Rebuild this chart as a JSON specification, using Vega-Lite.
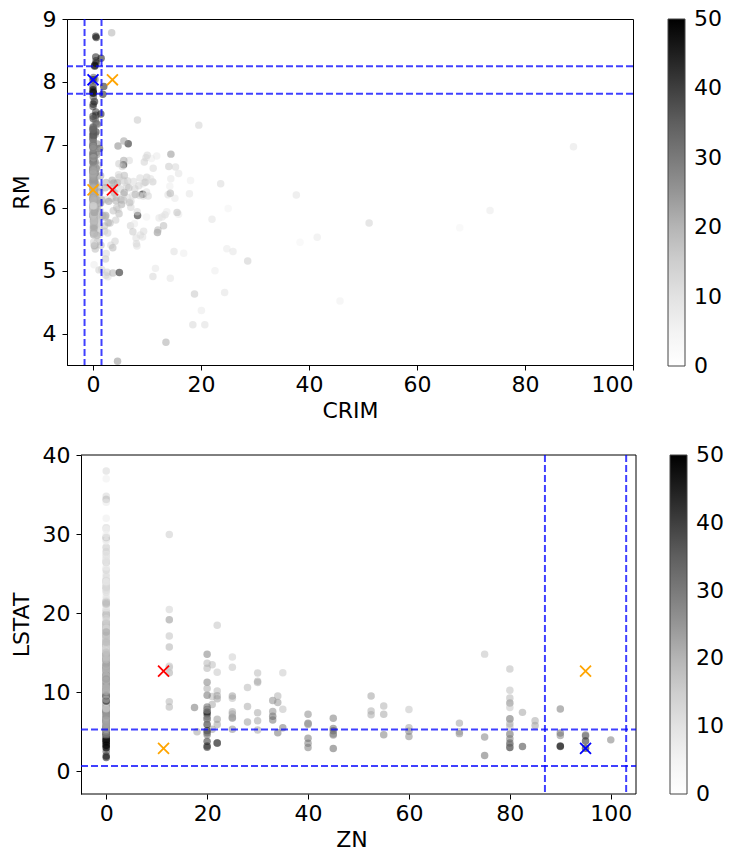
{
"$schema": "https://vega.github.io/schema/vega-lite/v6.json",
"padding": {"left": 9, "top": 7, "right": 2, "bottom": 2},
"background": "white",
"config": {
  "font": "DejaVu Sans",
  "axis": {"labelFontSize": 22, "titleFontSize": 22, "titleFontWeight": "normal", "labelColor": "#000", "titleColor": "#000", "tickSize": 5, "tickColor": "#000", "domainColor": "#000", "grid": false, "labelPadding": 4, "titlePadding": 5, "labelFont": "DejaVu Sans", "titleFont": "DejaVu Sans"},
  "axisY": {"labelPadding": 6, "titlePadding": 9},
  "view": {"stroke": "#000", "strokeWidth": 1},
  "legend": {"labelFont": "DejaVu Sans", "labelFontSize": 22, "labelColor": "#000"}
},
"datasets": {
"boston": [
{"CRIM":0.006,"ZN":18,"RM":6.575,"LSTAT":4.98,"MEDV":24},
{"CRIM":0.027,"ZN":0,"RM":6.421,"LSTAT":9.14,"MEDV":21.6},
{"CRIM":0.027,"ZN":0,"RM":7.185,"LSTAT":4.03,"MEDV":34.7},
{"CRIM":0.032,"ZN":0,"RM":6.998,"LSTAT":2.94,"MEDV":33.4},
{"CRIM":0.069,"ZN":0,"RM":7.147,"LSTAT":5.33,"MEDV":36.2},
{"CRIM":0.030,"ZN":0,"RM":6.43,"LSTAT":5.21,"MEDV":28.7},
{"CRIM":0.088,"ZN":12.5,"RM":6.012,"LSTAT":12.43,"MEDV":22.9},
{"CRIM":0.145,"ZN":12.5,"RM":6.172,"LSTAT":19.15,"MEDV":27.1},
{"CRIM":0.211,"ZN":12.5,"RM":5.631,"LSTAT":29.93,"MEDV":16.5},
{"CRIM":0.170,"ZN":12.5,"RM":6.004,"LSTAT":17.1,"MEDV":18.9},
{"CRIM":0.225,"ZN":12.5,"RM":6.377,"LSTAT":20.45,"MEDV":15},
{"CRIM":0.117,"ZN":12.5,"RM":6.009,"LSTAT":13.27,"MEDV":18.9},
{"CRIM":0.094,"ZN":12.5,"RM":5.889,"LSTAT":15.71,"MEDV":21.7},
{"CRIM":0.630,"ZN":0,"RM":5.949,"LSTAT":8.26,"MEDV":20.4},
{"CRIM":0.638,"ZN":0,"RM":6.096,"LSTAT":10.26,"MEDV":18.2},
{"CRIM":0.627,"ZN":0,"RM":5.834,"LSTAT":8.47,"MEDV":19.9},
{"CRIM":1.054,"ZN":0,"RM":5.935,"LSTAT":6.58,"MEDV":23.1},
{"CRIM":0.784,"ZN":0,"RM":5.99,"LSTAT":14.67,"MEDV":17.5},
{"CRIM":0.803,"ZN":0,"RM":5.456,"LSTAT":11.69,"MEDV":20.2},
{"CRIM":0.726,"ZN":0,"RM":5.727,"LSTAT":11.28,"MEDV":18.2},
{"CRIM":1.252,"ZN":0,"RM":5.57,"LSTAT":21.02,"MEDV":13.6},
{"CRIM":0.852,"ZN":0,"RM":5.965,"LSTAT":13.83,"MEDV":19.6},
{"CRIM":1.232,"ZN":0,"RM":6.142,"LSTAT":18.72,"MEDV":15.2},
{"CRIM":0.988,"ZN":0,"RM":5.813,"LSTAT":19.88,"MEDV":14.5},
{"CRIM":0.750,"ZN":0,"RM":5.924,"LSTAT":16.3,"MEDV":15.6},
{"CRIM":0.841,"ZN":0,"RM":5.599,"LSTAT":16.51,"MEDV":13.9},
{"CRIM":0.672,"ZN":0,"RM":5.813,"LSTAT":14.81,"MEDV":16.6},
{"CRIM":0.956,"ZN":0,"RM":6.047,"LSTAT":17.28,"MEDV":14.8},
{"CRIM":0.773,"ZN":0,"RM":6.495,"LSTAT":12.8,"MEDV":18.4},
{"CRIM":1.002,"ZN":0,"RM":6.674,"LSTAT":11.98,"MEDV":21},
{"CRIM":1.131,"ZN":0,"RM":5.713,"LSTAT":22.6,"MEDV":12.7},
{"CRIM":1.355,"ZN":0,"RM":6.072,"LSTAT":13.04,"MEDV":14.5},
{"CRIM":1.388,"ZN":0,"RM":5.95,"LSTAT":27.71,"MEDV":13.2},
{"CRIM":1.152,"ZN":0,"RM":5.701,"LSTAT":18.35,"MEDV":13.1},
{"CRIM":1.613,"ZN":0,"RM":6.096,"LSTAT":20.34,"MEDV":13.5},
{"CRIM":0.064,"ZN":0,"RM":5.933,"LSTAT":9.68,"MEDV":18.9},
{"CRIM":0.097,"ZN":0,"RM":5.841,"LSTAT":11.41,"MEDV":20},
{"CRIM":0.080,"ZN":0,"RM":5.85,"LSTAT":8.77,"MEDV":21},
{"CRIM":0.175,"ZN":0,"RM":5.966,"LSTAT":10.13,"MEDV":24.7},
{"CRIM":0.028,"ZN":75,"RM":6.595,"LSTAT":4.32,"MEDV":30.8},
{"CRIM":0.034,"ZN":75,"RM":7.024,"LSTAT":1.98,"MEDV":34.9},
{"CRIM":0.127,"ZN":0,"RM":6.77,"LSTAT":4.84,"MEDV":26.6},
{"CRIM":0.142,"ZN":0,"RM":6.169,"LSTAT":5.81,"MEDV":25.3},
{"CRIM":0.159,"ZN":0,"RM":6.211,"LSTAT":7.44,"MEDV":24.7},
{"CRIM":0.123,"ZN":0,"RM":6.069,"LSTAT":9.55,"MEDV":21.2},
{"CRIM":0.171,"ZN":0,"RM":5.682,"LSTAT":10.21,"MEDV":19.3},
{"CRIM":0.188,"ZN":0,"RM":5.786,"LSTAT":14.15,"MEDV":20},
{"CRIM":0.229,"ZN":0,"RM":6.03,"LSTAT":18.8,"MEDV":16.6},
{"CRIM":0.254,"ZN":0,"RM":5.399,"LSTAT":30.81,"MEDV":14.4},
{"CRIM":0.220,"ZN":0,"RM":5.602,"LSTAT":16.2,"MEDV":19.4},
{"CRIM":0.089,"ZN":21,"RM":5.963,"LSTAT":13.45,"MEDV":19.7},
{"CRIM":0.043,"ZN":21,"RM":6.115,"LSTAT":9.43,"MEDV":20.5},
{"CRIM":0.054,"ZN":21,"RM":6.511,"LSTAT":5.28,"MEDV":25},
{"CRIM":0.050,"ZN":21,"RM":5.998,"LSTAT":8.43,"MEDV":23.4},
{"CRIM":0.014,"ZN":75,"RM":5.888,"LSTAT":14.8,"MEDV":18.9},
{"CRIM":0.013,"ZN":90,"RM":7.249,"LSTAT":4.81,"MEDV":35.4},
{"CRIM":0.021,"ZN":85,"RM":6.383,"LSTAT":5.77,"MEDV":24.7},
{"CRIM":0.014,"ZN":100,"RM":6.816,"LSTAT":3.95,"MEDV":31.6},
{"CRIM":0.154,"ZN":25,"RM":6.145,"LSTAT":6.86,"MEDV":23.3},
{"CRIM":0.103,"ZN":25,"RM":5.927,"LSTAT":9.22,"MEDV":19.6},
{"CRIM":0.149,"ZN":25,"RM":5.741,"LSTAT":13.15,"MEDV":18.7},
{"CRIM":0.172,"ZN":25,"RM":5.966,"LSTAT":14.44,"MEDV":16},
{"CRIM":0.110,"ZN":25,"RM":6.456,"LSTAT":6.73,"MEDV":22.2},
{"CRIM":0.127,"ZN":25,"RM":6.762,"LSTAT":9.5,"MEDV":25},
{"CRIM":0.020,"ZN":17.5,"RM":7.104,"LSTAT":8.05,"MEDV":33},
{"CRIM":0.036,"ZN":80,"RM":6.29,"LSTAT":4.67,"MEDV":23.5},
{"CRIM":0.044,"ZN":80,"RM":5.787,"LSTAT":10.24,"MEDV":19.4},
{"CRIM":0.058,"ZN":12.5,"RM":5.878,"LSTAT":8.1,"MEDV":22},
{"CRIM":0.136,"ZN":12.5,"RM":5.594,"LSTAT":13.09,"MEDV":17.4},
{"CRIM":0.128,"ZN":12.5,"RM":5.885,"LSTAT":8.79,"MEDV":20.9},
{"CRIM":0.088,"ZN":0,"RM":6.417,"LSTAT":6.72,"MEDV":24.2},
{"CRIM":0.159,"ZN":0,"RM":5.961,"LSTAT":9.88,"MEDV":21.7},
{"CRIM":0.092,"ZN":0,"RM":6.065,"LSTAT":5.52,"MEDV":22.8},
{"CRIM":0.195,"ZN":0,"RM":6.245,"LSTAT":7.54,"MEDV":23.4},
{"CRIM":0.079,"ZN":0,"RM":6.273,"LSTAT":6.78,"MEDV":24.1},
{"CRIM":0.095,"ZN":0,"RM":6.286,"LSTAT":8.94,"MEDV":21.4},
{"CRIM":0.102,"ZN":0,"RM":6.279,"LSTAT":11.97,"MEDV":20},
{"CRIM":0.087,"ZN":0,"RM":6.14,"LSTAT":10.27,"MEDV":20.8},
{"CRIM":0.056,"ZN":0,"RM":6.232,"LSTAT":12.34,"MEDV":21.2},
{"CRIM":0.084,"ZN":0,"RM":5.874,"LSTAT":9.1,"MEDV":20.3},
{"CRIM":0.041,"ZN":25,"RM":6.727,"LSTAT":5.29,"MEDV":28},
{"CRIM":0.045,"ZN":25,"RM":6.619,"LSTAT":7.22,"MEDV":23.9},
{"CRIM":0.037,"ZN":25,"RM":6.302,"LSTAT":6.72,"MEDV":24.8},
{"CRIM":0.036,"ZN":25,"RM":6.167,"LSTAT":7.51,"MEDV":22.9},
{"CRIM":0.051,"ZN":0,"RM":6.389,"LSTAT":9.62,"MEDV":23.9},
{"CRIM":0.057,"ZN":0,"RM":6.63,"LSTAT":6.53,"MEDV":26.6},
{"CRIM":0.052,"ZN":0,"RM":6.015,"LSTAT":12.86,"MEDV":22.5},
{"CRIM":0.072,"ZN":0,"RM":6.121,"LSTAT":8.44,"MEDV":22.2},
{"CRIM":0.057,"ZN":0,"RM":7.007,"LSTAT":5.5,"MEDV":23.6},
{"CRIM":0.053,"ZN":0,"RM":7.079,"LSTAT":5.7,"MEDV":28.7},
{"CRIM":0.047,"ZN":0,"RM":6.417,"LSTAT":8.81,"MEDV":22.6},
{"CRIM":0.039,"ZN":0,"RM":6.405,"LSTAT":8.2,"MEDV":22},
{"CRIM":0.042,"ZN":28,"RM":6.442,"LSTAT":8.16,"MEDV":22.9},
{"CRIM":0.029,"ZN":28,"RM":6.211,"LSTAT":6.21,"MEDV":25},
{"CRIM":0.043,"ZN":28,"RM":6.249,"LSTAT":10.59,"MEDV":20.6},
{"CRIM":0.122,"ZN":0,"RM":6.625,"LSTAT":6.65,"MEDV":28.4},
{"CRIM":0.115,"ZN":0,"RM":6.163,"LSTAT":11.34,"MEDV":21.4},
{"CRIM":0.121,"ZN":0,"RM":8.069,"LSTAT":4.21,"MEDV":38.7},
{"CRIM":0.082,"ZN":0,"RM":7.82,"LSTAT":3.57,"MEDV":43.8},
{"CRIM":0.069,"ZN":0,"RM":7.416,"LSTAT":6.19,"MEDV":33.2},
{"CRIM":0.149,"ZN":0,"RM":6.727,"LSTAT":9.42,"MEDV":27.5},
{"CRIM":0.114,"ZN":0,"RM":6.781,"LSTAT":7.67,"MEDV":26.5},
{"CRIM":0.229,"ZN":0,"RM":6.405,"LSTAT":10.63,"MEDV":18.6},
{"CRIM":0.212,"ZN":0,"RM":6.137,"LSTAT":13.44,"MEDV":19.3},
{"CRIM":0.140,"ZN":0,"RM":6.167,"LSTAT":12.33,"MEDV":20.1},
{"CRIM":0.133,"ZN":0,"RM":5.851,"LSTAT":16.47,"MEDV":19.5},
{"CRIM":0.171,"ZN":0,"RM":5.836,"LSTAT":18.66,"MEDV":19.5},
{"CRIM":0.131,"ZN":0,"RM":6.127,"LSTAT":14.09,"MEDV":20.4},
{"CRIM":0.128,"ZN":0,"RM":6.474,"LSTAT":12.27,"MEDV":19.8},
{"CRIM":0.264,"ZN":0,"RM":6.229,"LSTAT":15.55,"MEDV":19.4},
{"CRIM":0.108,"ZN":0,"RM":6.195,"LSTAT":13,"MEDV":21.7},
{"CRIM":0.101,"ZN":0,"RM":6.715,"LSTAT":10.16,"MEDV":22.8},
{"CRIM":0.123,"ZN":0,"RM":5.913,"LSTAT":16.21,"MEDV":18.8},
{"CRIM":0.222,"ZN":0,"RM":6.092,"LSTAT":17.09,"MEDV":18.7},
{"CRIM":0.142,"ZN":0,"RM":6.254,"LSTAT":10.45,"MEDV":18.5},
{"CRIM":0.171,"ZN":0,"RM":5.928,"LSTAT":15.76,"MEDV":18.3},
{"CRIM":0.132,"ZN":0,"RM":6.176,"LSTAT":12.04,"MEDV":21.2},
{"CRIM":0.151,"ZN":0,"RM":6.021,"LSTAT":10.3,"MEDV":19.2},
{"CRIM":0.131,"ZN":0,"RM":5.872,"LSTAT":15.37,"MEDV":20.4},
{"CRIM":0.145,"ZN":0,"RM":5.731,"LSTAT":13.61,"MEDV":19.3},
{"CRIM":0.069,"ZN":0,"RM":5.87,"LSTAT":14.37,"MEDV":22},
{"CRIM":0.072,"ZN":0,"RM":6.004,"LSTAT":14.27,"MEDV":20.3},
{"CRIM":0.093,"ZN":0,"RM":5.961,"LSTAT":17.93,"MEDV":20.5},
{"CRIM":0.150,"ZN":0,"RM":5.856,"LSTAT":25.41,"MEDV":17.3},
{"CRIM":0.098,"ZN":0,"RM":5.879,"LSTAT":17.58,"MEDV":18.8},
{"CRIM":0.169,"ZN":0,"RM":5.986,"LSTAT":14.81,"MEDV":21.4},
{"CRIM":0.387,"ZN":0,"RM":5.613,"LSTAT":27.26,"MEDV":15.7},
{"CRIM":0.259,"ZN":0,"RM":5.693,"LSTAT":17.19,"MEDV":16.2},
{"CRIM":0.325,"ZN":0,"RM":6.431,"LSTAT":15.39,"MEDV":18},
{"CRIM":0.881,"ZN":0,"RM":5.637,"LSTAT":18.34,"MEDV":14.3},
{"CRIM":0.340,"ZN":0,"RM":6.458,"LSTAT":12.6,"MEDV":19.2},
{"CRIM":1.193,"ZN":0,"RM":6.326,"LSTAT":12.26,"MEDV":19.6},
{"CRIM":0.590,"ZN":0,"RM":6.372,"LSTAT":11.12,"MEDV":23},
{"CRIM":0.330,"ZN":0,"RM":5.822,"LSTAT":15.03,"MEDV":18.4},
{"CRIM":0.976,"ZN":0,"RM":5.757,"LSTAT":17.31,"MEDV":15.6},
{"CRIM":0.558,"ZN":0,"RM":6.335,"LSTAT":16.96,"MEDV":18.1},
{"CRIM":0.323,"ZN":0,"RM":5.942,"LSTAT":16.9,"MEDV":17.4},
{"CRIM":0.352,"ZN":0,"RM":6.454,"LSTAT":14.59,"MEDV":17.1},
{"CRIM":0.250,"ZN":0,"RM":5.857,"LSTAT":21.32,"MEDV":13.3},
{"CRIM":0.545,"ZN":0,"RM":6.151,"LSTAT":18.46,"MEDV":17.8},
{"CRIM":0.291,"ZN":0,"RM":6.174,"LSTAT":24.16,"MEDV":14},
{"CRIM":1.629,"ZN":0,"RM":5.019,"LSTAT":34.41,"MEDV":14.4},
{"CRIM":3.321,"ZN":0,"RM":5.403,"LSTAT":26.82,"MEDV":13.4},
{"CRIM":4.097,"ZN":0,"RM":5.468,"LSTAT":26.42,"MEDV":15.6},
{"CRIM":2.780,"ZN":0,"RM":4.903,"LSTAT":29.29,"MEDV":11.8},
{"CRIM":2.379,"ZN":0,"RM":6.13,"LSTAT":27.8,"MEDV":13.8},
{"CRIM":2.155,"ZN":0,"RM":5.628,"LSTAT":16.65,"MEDV":15.6},
{"CRIM":2.369,"ZN":0,"RM":4.926,"LSTAT":29.53,"MEDV":14.6},
{"CRIM":2.331,"ZN":0,"RM":5.186,"LSTAT":28.32,"MEDV":17.8},
{"CRIM":2.734,"ZN":0,"RM":5.597,"LSTAT":21.45,"MEDV":15.4},
{"CRIM":1.657,"ZN":0,"RM":6.122,"LSTAT":14.1,"MEDV":21.5},
{"CRIM":1.496,"ZN":0,"RM":5.404,"LSTAT":13.28,"MEDV":19.6},
{"CRIM":1.127,"ZN":0,"RM":5.012,"LSTAT":12.12,"MEDV":15.3},
{"CRIM":2.149,"ZN":0,"RM":5.709,"LSTAT":15.79,"MEDV":19.4},
{"CRIM":1.414,"ZN":0,"RM":6.129,"LSTAT":15.12,"MEDV":17},
{"CRIM":3.535,"ZN":0,"RM":6.152,"LSTAT":15.02,"MEDV":15.6},
{"CRIM":2.447,"ZN":0,"RM":5.272,"LSTAT":16.14,"MEDV":13.1},
{"CRIM":1.224,"ZN":0,"RM":6.943,"LSTAT":4.59,"MEDV":41.3},
{"CRIM":1.343,"ZN":0,"RM":6.066,"LSTAT":6.43,"MEDV":24.3},
{"CRIM":1.425,"ZN":0,"RM":6.51,"LSTAT":7.39,"MEDV":23.3},
{"CRIM":1.273,"ZN":0,"RM":6.25,"LSTAT":5.5,"MEDV":27},
{"CRIM":1.463,"ZN":0,"RM":7.489,"LSTAT":1.73,"MEDV":50},
{"CRIM":1.834,"ZN":0,"RM":7.802,"LSTAT":1.92,"MEDV":50},
{"CRIM":1.519,"ZN":0,"RM":8.375,"LSTAT":3.32,"MEDV":50},
{"CRIM":2.242,"ZN":0,"RM":5.854,"LSTAT":11.64,"MEDV":22.7},
{"CRIM":2.924,"ZN":0,"RM":6.101,"LSTAT":9.81,"MEDV":25},
{"CRIM":2.010,"ZN":0,"RM":7.929,"LSTAT":3.7,"MEDV":50},
{"CRIM":1.800,"ZN":0,"RM":5.877,"LSTAT":12.14,"MEDV":23.8},
{"CRIM":2.300,"ZN":0,"RM":6.319,"LSTAT":11.1,"MEDV":23.8},
{"CRIM":2.450,"ZN":0,"RM":6.402,"LSTAT":11.32,"MEDV":22.3},
{"CRIM":1.207,"ZN":0,"RM":5.875,"LSTAT":14.43,"MEDV":17.4},
{"CRIM":2.314,"ZN":0,"RM":5.88,"LSTAT":12.03,"MEDV":19.1},
{"CRIM":0.139,"ZN":0,"RM":5.572,"LSTAT":14.69,"MEDV":23.1},
{"CRIM":0.092,"ZN":0,"RM":6.416,"LSTAT":9.04,"MEDV":23.6},
{"CRIM":0.084,"ZN":0,"RM":5.859,"LSTAT":9.64,"MEDV":22.6},
{"CRIM":0.067,"ZN":0,"RM":6.546,"LSTAT":5.33,"MEDV":29.4},
{"CRIM":0.070,"ZN":0,"RM":6.02,"LSTAT":10.11,"MEDV":23.2},
{"CRIM":0.054,"ZN":0,"RM":6.315,"LSTAT":6.29,"MEDV":24.6},
{"CRIM":0.066,"ZN":0,"RM":6.86,"LSTAT":6.92,"MEDV":29.9},
{"CRIM":0.058,"ZN":0,"RM":6.98,"LSTAT":5.04,"MEDV":37.2},
{"CRIM":0.066,"ZN":0,"RM":7.765,"LSTAT":7.56,"MEDV":39.8},
{"CRIM":0.069,"ZN":0,"RM":6.144,"LSTAT":9.45,"MEDV":36.2},
{"CRIM":0.091,"ZN":0,"RM":7.155,"LSTAT":4.82,"MEDV":37.9},
{"CRIM":0.100,"ZN":0,"RM":6.563,"LSTAT":5.68,"MEDV":32.5},
{"CRIM":0.083,"ZN":0,"RM":5.604,"LSTAT":13.98,"MEDV":26.4},
{"CRIM":0.060,"ZN":0,"RM":6.153,"LSTAT":13.15,"MEDV":29.6},
{"CRIM":0.056,"ZN":0,"RM":7.831,"LSTAT":4.45,"MEDV":50},
{"CRIM":0.079,"ZN":45,"RM":6.782,"LSTAT":6.68,"MEDV":32},
{"CRIM":0.126,"ZN":45,"RM":6.556,"LSTAT":4.56,"MEDV":29.8},
{"CRIM":0.084,"ZN":45,"RM":7.185,"LSTAT":5.39,"MEDV":34.9},
{"CRIM":0.091,"ZN":45,"RM":6.951,"LSTAT":5.1,"MEDV":37},
{"CRIM":0.069,"ZN":45,"RM":6.739,"LSTAT":4.69,"MEDV":30.5},
{"CRIM":0.087,"ZN":45,"RM":7.178,"LSTAT":2.87,"MEDV":36.4},
{"CRIM":0.022,"ZN":60,"RM":6.8,"LSTAT":5.03,"MEDV":31.1},
{"CRIM":0.014,"ZN":60,"RM":6.604,"LSTAT":4.38,"MEDV":29.1},
{"CRIM":0.014,"ZN":80,"RM":7.875,"LSTAT":2.97,"MEDV":50},
{"CRIM":0.040,"ZN":80,"RM":7.287,"LSTAT":4.08,"MEDV":33.3},
{"CRIM":0.047,"ZN":80,"RM":7.107,"LSTAT":8.61,"MEDV":30.3},
{"CRIM":0.038,"ZN":80,"RM":7.274,"LSTAT":6.62,"MEDV":34.6},
{"CRIM":0.032,"ZN":95,"RM":6.975,"LSTAT":4.56,"MEDV":34.9},
{"CRIM":0.018,"ZN":95,"RM":7.135,"LSTAT":4.45,"MEDV":32.9},
{"CRIM":0.034,"ZN":82.5,"RM":6.162,"LSTAT":7.43,"MEDV":24.1},
{"CRIM":0.022,"ZN":82.5,"RM":7.61,"LSTAT":3.11,"MEDV":42.3},
{"CRIM":0.035,"ZN":95,"RM":7.853,"LSTAT":3.81,"MEDV":48.5},
{"CRIM":0.020,"ZN":95,"RM":8.034,"LSTAT":2.88,"MEDV":50},
{"CRIM":0.136,"ZN":0,"RM":5.891,"LSTAT":10.87,"MEDV":22.6},
{"CRIM":0.230,"ZN":0,"RM":6.326,"LSTAT":10.97,"MEDV":24.4},
{"CRIM":0.252,"ZN":0,"RM":5.783,"LSTAT":18.06,"MEDV":22.5},
{"CRIM":0.136,"ZN":0,"RM":6.064,"LSTAT":14.66,"MEDV":24.4},
{"CRIM":0.436,"ZN":0,"RM":5.344,"LSTAT":23.09,"MEDV":20},
{"CRIM":0.174,"ZN":0,"RM":5.96,"LSTAT":17.27,"MEDV":21.7},
{"CRIM":0.376,"ZN":0,"RM":5.404,"LSTAT":23.98,"MEDV":19.3},
{"CRIM":0.217,"ZN":0,"RM":5.807,"LSTAT":16.03,"MEDV":22.4},
{"CRIM":0.141,"ZN":0,"RM":6.375,"LSTAT":9.38,"MEDV":28.1},
{"CRIM":0.290,"ZN":0,"RM":5.412,"LSTAT":29.55,"MEDV":23.7},
{"CRIM":0.198,"ZN":0,"RM":6.182,"LSTAT":9.47,"MEDV":25},
{"CRIM":0.046,"ZN":0,"RM":5.888,"LSTAT":13.51,"MEDV":23.3},
{"CRIM":0.070,"ZN":0,"RM":6.642,"LSTAT":9.69,"MEDV":28.7},
{"CRIM":0.111,"ZN":0,"RM":5.951,"LSTAT":17.92,"MEDV":21.5},
{"CRIM":0.114,"ZN":0,"RM":6.373,"LSTAT":10.5,"MEDV":23},
{"CRIM":0.358,"ZN":0,"RM":6.951,"LSTAT":9.71,"MEDV":26.7},
{"CRIM":0.408,"ZN":0,"RM":6.164,"LSTAT":21.46,"MEDV":21.7},
{"CRIM":0.624,"ZN":0,"RM":6.879,"LSTAT":9.93,"MEDV":27.5},
{"CRIM":0.615,"ZN":0,"RM":6.618,"LSTAT":7.6,"MEDV":30.1},
{"CRIM":0.315,"ZN":0,"RM":8.266,"LSTAT":4.14,"MEDV":44.8},
{"CRIM":0.527,"ZN":0,"RM":8.725,"LSTAT":4.63,"MEDV":50},
{"CRIM":0.382,"ZN":0,"RM":8.04,"LSTAT":3.13,"MEDV":37.6},
{"CRIM":0.412,"ZN":0,"RM":7.163,"LSTAT":6.36,"MEDV":31.6},
{"CRIM":0.298,"ZN":0,"RM":7.686,"LSTAT":3.92,"MEDV":46.7},
{"CRIM":0.442,"ZN":0,"RM":6.552,"LSTAT":3.76,"MEDV":31.5},
{"CRIM":0.537,"ZN":0,"RM":5.981,"LSTAT":11.65,"MEDV":24.3},
{"CRIM":0.463,"ZN":0,"RM":7.412,"LSTAT":5.25,"MEDV":31.7},
{"CRIM":0.575,"ZN":0,"RM":8.337,"LSTAT":2.47,"MEDV":41.7},
{"CRIM":0.331,"ZN":0,"RM":8.247,"LSTAT":3.95,"MEDV":48.3},
{"CRIM":0.448,"ZN":0,"RM":6.726,"LSTAT":8.05,"MEDV":29},
{"CRIM":0.330,"ZN":0,"RM":6.086,"LSTAT":10.88,"MEDV":24},
{"CRIM":0.521,"ZN":0,"RM":6.631,"LSTAT":9.54,"MEDV":25.1},
{"CRIM":0.512,"ZN":0,"RM":7.358,"LSTAT":4.73,"MEDV":31.5},
{"CRIM":0.082,"ZN":30,"RM":6.481,"LSTAT":6.36,"MEDV":23.7},
{"CRIM":0.093,"ZN":30,"RM":6.606,"LSTAT":7.37,"MEDV":23.3},
{"CRIM":0.113,"ZN":30,"RM":6.897,"LSTAT":11.38,"MEDV":22},
{"CRIM":0.106,"ZN":30,"RM":6.095,"LSTAT":12.4,"MEDV":20.1},
{"CRIM":0.103,"ZN":30,"RM":6.358,"LSTAT":11.22,"MEDV":22.2},
{"CRIM":0.128,"ZN":30,"RM":6.393,"LSTAT":5.19,"MEDV":23.7},
{"CRIM":0.206,"ZN":22,"RM":5.593,"LSTAT":12.5,"MEDV":17.6},
{"CRIM":0.191,"ZN":22,"RM":5.605,"LSTAT":18.46,"MEDV":18.5},
{"CRIM":0.340,"ZN":22,"RM":6.108,"LSTAT":9.16,"MEDV":24.3},
{"CRIM":0.197,"ZN":22,"RM":6.226,"LSTAT":10.15,"MEDV":20.5},
{"CRIM":0.164,"ZN":22,"RM":6.433,"LSTAT":9.52,"MEDV":24.5},
{"CRIM":0.191,"ZN":22,"RM":6.718,"LSTAT":6.56,"MEDV":26.2},
{"CRIM":0.140,"ZN":22,"RM":6.487,"LSTAT":5.9,"MEDV":24.4},
{"CRIM":0.214,"ZN":22,"RM":6.438,"LSTAT":3.59,"MEDV":24.8},
{"CRIM":0.082,"ZN":22,"RM":6.957,"LSTAT":3.53,"MEDV":29.6},
{"CRIM":0.369,"ZN":22,"RM":8.259,"LSTAT":3.54,"MEDV":42.8},
{"CRIM":0.048,"ZN":80,"RM":6.108,"LSTAT":6.57,"MEDV":21.9},
{"CRIM":0.035,"ZN":80,"RM":5.876,"LSTAT":9.25,"MEDV":20.9},
{"CRIM":0.015,"ZN":90,"RM":7.454,"LSTAT":3.11,"MEDV":44},
{"CRIM":0.612,"ZN":20,"RM":8.704,"LSTAT":5.12,"MEDV":50},
{"CRIM":0.664,"ZN":20,"RM":7.333,"LSTAT":7.79,"MEDV":36},
{"CRIM":0.657,"ZN":20,"RM":6.842,"LSTAT":6.9,"MEDV":30.1},
{"CRIM":0.540,"ZN":20,"RM":7.203,"LSTAT":9.59,"MEDV":33.8},
{"CRIM":0.534,"ZN":20,"RM":7.52,"LSTAT":7.26,"MEDV":43.1},
{"CRIM":0.520,"ZN":20,"RM":8.398,"LSTAT":5.91,"MEDV":48.8},
{"CRIM":0.825,"ZN":20,"RM":7.327,"LSTAT":11.25,"MEDV":31},
{"CRIM":0.550,"ZN":20,"RM":7.206,"LSTAT":8.1,"MEDV":36.5},
{"CRIM":0.762,"ZN":20,"RM":5.56,"LSTAT":10.45,"MEDV":22.8},
{"CRIM":0.786,"ZN":20,"RM":7.014,"LSTAT":14.79,"MEDV":30.7},
{"CRIM":0.578,"ZN":20,"RM":8.297,"LSTAT":7.44,"MEDV":50},
{"CRIM":0.541,"ZN":20,"RM":7.47,"LSTAT":3.16,"MEDV":43.5},
{"CRIM":0.091,"ZN":20,"RM":5.92,"LSTAT":13.65,"MEDV":20.7},
{"CRIM":0.299,"ZN":20,"RM":5.856,"LSTAT":13,"MEDV":21.1},
{"CRIM":0.162,"ZN":20,"RM":6.24,"LSTAT":6.59,"MEDV":25.2},
{"CRIM":0.115,"ZN":20,"RM":6.538,"LSTAT":7.73,"MEDV":24.4},
{"CRIM":0.222,"ZN":20,"RM":7.691,"LSTAT":6.58,"MEDV":35.2},
{"CRIM":0.056,"ZN":40,"RM":6.758,"LSTAT":3.53,"MEDV":32.4},
{"CRIM":0.096,"ZN":40,"RM":6.854,"LSTAT":2.98,"MEDV":32},
{"CRIM":0.105,"ZN":40,"RM":7.267,"LSTAT":6.05,"MEDV":33.2},
{"CRIM":0.061,"ZN":40,"RM":6.826,"LSTAT":4.16,"MEDV":33.1},
{"CRIM":0.080,"ZN":40,"RM":6.482,"LSTAT":7.19,"MEDV":29.1},
{"CRIM":0.210,"ZN":20,"RM":6.812,"LSTAT":4.85,"MEDV":35.1},
{"CRIM":0.036,"ZN":20,"RM":7.82,"LSTAT":3.76,"MEDV":45.4},
{"CRIM":0.037,"ZN":20,"RM":6.968,"LSTAT":4.59,"MEDV":35.4},
{"CRIM":0.061,"ZN":20,"RM":7.645,"LSTAT":3.01,"MEDV":46},
{"CRIM":0.015,"ZN":90,"RM":7.923,"LSTAT":3.16,"MEDV":50},
{"CRIM":0.009,"ZN":90,"RM":7.088,"LSTAT":7.85,"MEDV":32.2},
{"CRIM":0.011,"ZN":55,"RM":6.453,"LSTAT":8.23,"MEDV":22},
{"CRIM":0.020,"ZN":80,"RM":6.23,"LSTAT":12.93,"MEDV":20.1},
{"CRIM":0.039,"ZN":52.5,"RM":6.209,"LSTAT":7.14,"MEDV":23.2},
{"CRIM":0.046,"ZN":52.5,"RM":6.315,"LSTAT":7.6,"MEDV":22.3},
{"CRIM":0.043,"ZN":52.5,"RM":6.565,"LSTAT":9.51,"MEDV":24.8},
{"CRIM":0.035,"ZN":80,"RM":6.861,"LSTAT":3.33,"MEDV":28.5},
{"CRIM":0.079,"ZN":80,"RM":7.148,"LSTAT":3.56,"MEDV":37.3},
{"CRIM":0.036,"ZN":80,"RM":6.63,"LSTAT":4.7,"MEDV":27.9},
{"CRIM":0.083,"ZN":0,"RM":6.127,"LSTAT":8.58,"MEDV":23.9},
{"CRIM":0.082,"ZN":0,"RM":6.009,"LSTAT":10.4,"MEDV":21.7},
{"CRIM":0.129,"ZN":0,"RM":6.678,"LSTAT":6.27,"MEDV":28.6},
{"CRIM":0.054,"ZN":0,"RM":6.549,"LSTAT":7.39,"MEDV":27.1},
{"CRIM":0.141,"ZN":0,"RM":5.79,"LSTAT":15.84,"MEDV":20.3},
{"CRIM":0.065,"ZN":70,"RM":6.345,"LSTAT":4.97,"MEDV":22.5},
{"CRIM":0.056,"ZN":70,"RM":7.041,"LSTAT":4.74,"MEDV":29},
{"CRIM":0.044,"ZN":70,"RM":6.871,"LSTAT":6.07,"MEDV":24.8},
{"CRIM":0.035,"ZN":34,"RM":6.59,"LSTAT":9.5,"MEDV":22},
{"CRIM":0.093,"ZN":34,"RM":6.495,"LSTAT":8.67,"MEDV":26.4},
{"CRIM":0.100,"ZN":34,"RM":6.982,"LSTAT":4.86,"MEDV":33.1},
{"CRIM":0.055,"ZN":33,"RM":7.236,"LSTAT":6.93,"MEDV":36.1},
{"CRIM":0.055,"ZN":33,"RM":6.616,"LSTAT":8.93,"MEDV":28.4},
{"CRIM":0.075,"ZN":33,"RM":7.42,"LSTAT":6.47,"MEDV":33.4},
{"CRIM":0.049,"ZN":33,"RM":6.849,"LSTAT":7.53,"MEDV":28.2},
{"CRIM":0.493,"ZN":0,"RM":6.635,"LSTAT":4.54,"MEDV":22.8},
{"CRIM":0.349,"ZN":0,"RM":5.972,"LSTAT":9.97,"MEDV":20.3},
{"CRIM":2.635,"ZN":0,"RM":4.973,"LSTAT":12.64,"MEDV":16.1},
{"CRIM":0.790,"ZN":0,"RM":6.122,"LSTAT":5.98,"MEDV":22.1},
{"CRIM":0.262,"ZN":0,"RM":6.023,"LSTAT":11.72,"MEDV":19.4},
{"CRIM":0.269,"ZN":0,"RM":6.266,"LSTAT":7.9,"MEDV":21.6},
{"CRIM":0.369,"ZN":0,"RM":6.567,"LSTAT":9.28,"MEDV":23.8},
{"CRIM":0.254,"ZN":0,"RM":5.705,"LSTAT":11.5,"MEDV":16.2},
{"CRIM":0.318,"ZN":0,"RM":5.914,"LSTAT":18.33,"MEDV":17.8},
{"CRIM":0.245,"ZN":0,"RM":5.782,"LSTAT":15.94,"MEDV":19.8},
{"CRIM":0.402,"ZN":0,"RM":6.382,"LSTAT":10.36,"MEDV":23.1},
{"CRIM":0.475,"ZN":0,"RM":6.113,"LSTAT":12.73,"MEDV":21},
{"CRIM":0.168,"ZN":0,"RM":6.426,"LSTAT":7.2,"MEDV":23.8},
{"CRIM":0.182,"ZN":0,"RM":6.376,"LSTAT":6.87,"MEDV":23.1},
{"CRIM":0.351,"ZN":0,"RM":6.041,"LSTAT":7.7,"MEDV":20.4},
{"CRIM":0.284,"ZN":0,"RM":5.708,"LSTAT":11.74,"MEDV":18.5},
{"CRIM":0.341,"ZN":0,"RM":6.415,"LSTAT":6.12,"MEDV":25},
{"CRIM":0.192,"ZN":0,"RM":6.431,"LSTAT":5.08,"MEDV":24.6},
{"CRIM":0.303,"ZN":0,"RM":6.312,"LSTAT":6.15,"MEDV":23},
{"CRIM":0.241,"ZN":0,"RM":6.083,"LSTAT":12.79,"MEDV":22.2},
{"CRIM":0.066,"ZN":0,"RM":5.868,"LSTAT":9.97,"MEDV":19.3},
{"CRIM":0.067,"ZN":0,"RM":6.333,"LSTAT":7.34,"MEDV":22.6},
{"CRIM":0.045,"ZN":0,"RM":6.144,"LSTAT":9.09,"MEDV":19.8},
{"CRIM":0.050,"ZN":35,"RM":5.706,"LSTAT":12.43,"MEDV":17.1},
{"CRIM":0.035,"ZN":35,"RM":6.031,"LSTAT":7.83,"MEDV":19.4},
{"CRIM":0.051,"ZN":0,"RM":6.316,"LSTAT":5.68,"MEDV":22.2},
{"CRIM":0.037,"ZN":0,"RM":6.31,"LSTAT":6.75,"MEDV":20.7},
{"CRIM":0.040,"ZN":0,"RM":6.037,"LSTAT":8.01,"MEDV":21.1},
{"CRIM":0.034,"ZN":0,"RM":5.869,"LSTAT":9.8,"MEDV":19.5},
{"CRIM":0.030,"ZN":0,"RM":5.895,"LSTAT":10.56,"MEDV":18.5},
{"CRIM":0.033,"ZN":0,"RM":6.059,"LSTAT":8.51,"MEDV":20.6},
{"CRIM":0.055,"ZN":0,"RM":5.985,"LSTAT":9.74,"MEDV":19},
{"CRIM":0.062,"ZN":0,"RM":5.968,"LSTAT":9.29,"MEDV":18.7},
{"CRIM":0.013,"ZN":35,"RM":7.241,"LSTAT":5.49,"MEDV":32.7},
{"CRIM":0.025,"ZN":0,"RM":6.54,"LSTAT":8.65,"MEDV":16.5},
{"CRIM":0.025,"ZN":55,"RM":6.696,"LSTAT":7.18,"MEDV":23.9},
{"CRIM":0.030,"ZN":55,"RM":6.874,"LSTAT":4.61,"MEDV":31.2},
{"CRIM":0.031,"ZN":0,"RM":6.014,"LSTAT":10.53,"MEDV":17.5},
{"CRIM":0.062,"ZN":0,"RM":5.898,"LSTAT":12.67,"MEDV":17.2},
{"CRIM":0.019,"ZN":85,"RM":6.516,"LSTAT":6.36,"MEDV":23.1},
{"CRIM":0.015,"ZN":80,"RM":6.635,"LSTAT":5.99,"MEDV":24.5},
{"CRIM":0.029,"ZN":40,"RM":6.939,"LSTAT":5.89,"MEDV":26.6},
{"CRIM":0.062,"ZN":40,"RM":6.49,"LSTAT":5.98,"MEDV":22.9},
{"CRIM":0.080,"ZN":60,"RM":6.579,"LSTAT":5.49,"MEDV":24.1},
{"CRIM":0.072,"ZN":60,"RM":5.884,"LSTAT":7.79,"MEDV":18.6},
{"CRIM":0.017,"ZN":90,"RM":6.728,"LSTAT":4.5,"MEDV":30.1},
{"CRIM":0.043,"ZN":80,"RM":5.663,"LSTAT":8.05,"MEDV":18.2},
{"CRIM":0.107,"ZN":80,"RM":5.936,"LSTAT":5.57,"MEDV":20.6},
{"CRIM":8.98,"ZN":0,"RM":6.212,"LSTAT":17.6,"MEDV":17.8},
{"CRIM":3.85,"ZN":0,"RM":6.395,"LSTAT":13.27,"MEDV":21.7},
{"CRIM":5.20,"ZN":0,"RM":6.127,"LSTAT":11.48,"MEDV":22.7},
{"CRIM":4.26,"ZN":0,"RM":6.112,"LSTAT":12.67,"MEDV":22.6},
{"CRIM":4.54,"ZN":0,"RM":6.398,"LSTAT":7.79,"MEDV":25},
{"CRIM":3.84,"ZN":0,"RM":6.251,"LSTAT":14.19,"MEDV":19.9},
{"CRIM":3.68,"ZN":0,"RM":5.362,"LSTAT":10.19,"MEDV":20.8},
{"CRIM":4.22,"ZN":0,"RM":5.803,"LSTAT":14.64,"MEDV":16.8},
{"CRIM":3.47,"ZN":0,"RM":8.78,"LSTAT":5.29,"MEDV":21.9},
{"CRIM":4.56,"ZN":0,"RM":3.561,"LSTAT":7.12,"MEDV":27.5},
{"CRIM":3.70,"ZN":0,"RM":4.963,"LSTAT":14,"MEDV":21.9},
{"CRIM":13.52,"ZN":0,"RM":3.863,"LSTAT":13.33,"MEDV":23.1},
{"CRIM":4.90,"ZN":0,"RM":4.97,"LSTAT":3.26,"MEDV":50},
{"CRIM":5.67,"ZN":0,"RM":6.683,"LSTAT":3.73,"MEDV":50},
{"CRIM":6.54,"ZN":0,"RM":7.016,"LSTAT":2.96,"MEDV":50},
{"CRIM":9.23,"ZN":0,"RM":6.216,"LSTAT":9.53,"MEDV":50},
{"CRIM":8.27,"ZN":0,"RM":5.875,"LSTAT":8.88,"MEDV":50},
{"CRIM":11.11,"ZN":0,"RM":4.906,"LSTAT":34.77,"MEDV":13.8},
{"CRIM":18.50,"ZN":0,"RM":4.138,"LSTAT":37.97,"MEDV":13.8},
{"CRIM":19.61,"ZN":0,"RM":7.313,"LSTAT":13.44,"MEDV":15},
{"CRIM":15.29,"ZN":0,"RM":6.649,"LSTAT":23.24,"MEDV":13.9},
{"CRIM":9.82,"ZN":0,"RM":6.794,"LSTAT":21.24,"MEDV":13.3},
{"CRIM":23.65,"ZN":0,"RM":6.38,"LSTAT":23.69,"MEDV":13.1},
{"CRIM":17.87,"ZN":0,"RM":6.223,"LSTAT":21.78,"MEDV":10.2},
{"CRIM":88.98,"ZN":0,"RM":6.968,"LSTAT":17.21,"MEDV":10.4},
{"CRIM":15.87,"ZN":0,"RM":6.545,"LSTAT":21.08,"MEDV":10.9},
{"CRIM":9.19,"ZN":0,"RM":5.536,"LSTAT":23.6,"MEDV":11.3},
{"CRIM":7.99,"ZN":0,"RM":5.52,"LSTAT":24.56,"MEDV":12.3},
{"CRIM":20.08,"ZN":0,"RM":4.368,"LSTAT":30.63,"MEDV":8.8},
{"CRIM":16.81,"ZN":0,"RM":5.277,"LSTAT":30.81,"MEDV":7.2},
{"CRIM":24.39,"ZN":0,"RM":4.652,"LSTAT":28.28,"MEDV":10.5},
{"CRIM":22.60,"ZN":0,"RM":5,"LSTAT":31.99,"MEDV":7.4},
{"CRIM":14.33,"ZN":0,"RM":4.88,"LSTAT":30.62,"MEDV":10.2},
{"CRIM":8.15,"ZN":0,"RM":5.39,"LSTAT":20.85,"MEDV":11.5},
{"CRIM":6.96,"ZN":0,"RM":5.713,"LSTAT":17.11,"MEDV":15.1},
{"CRIM":5.29,"ZN":0,"RM":6.051,"LSTAT":18.76,"MEDV":23.2},
{"CRIM":11.58,"ZN":0,"RM":5.036,"LSTAT":25.68,"MEDV":9.7},
{"CRIM":8.64,"ZN":0,"RM":6.193,"LSTAT":15.17,"MEDV":13.8},
{"CRIM":13.36,"ZN":0,"RM":5.887,"LSTAT":16.35,"MEDV":12.7},
{"CRIM":8.72,"ZN":0,"RM":6.471,"LSTAT":17.12,"MEDV":13.1},
{"CRIM":5.87,"ZN":0,"RM":6.405,"LSTAT":19.37,"MEDV":12.5},
{"CRIM":7.67,"ZN":0,"RM":5.747,"LSTAT":19.92,"MEDV":8.5},
{"CRIM":38.35,"ZN":0,"RM":5.453,"LSTAT":30.59,"MEDV":5},
{"CRIM":9.92,"ZN":0,"RM":5.852,"LSTAT":29.97,"MEDV":6.3},
{"CRIM":25.05,"ZN":0,"RM":5.987,"LSTAT":26.77,"MEDV":5.6},
{"CRIM":14.24,"ZN":0,"RM":6.343,"LSTAT":20.32,"MEDV":7.2},
{"CRIM":9.60,"ZN":0,"RM":6.404,"LSTAT":20.31,"MEDV":12.1},
{"CRIM":24.80,"ZN":0,"RM":5.349,"LSTAT":19.77,"MEDV":8.3},
{"CRIM":41.53,"ZN":0,"RM":5.531,"LSTAT":27.38,"MEDV":8.5},
{"CRIM":67.92,"ZN":0,"RM":5.683,"LSTAT":22.98,"MEDV":5},
{"CRIM":20.72,"ZN":0,"RM":4.138,"LSTAT":23.34,"MEDV":11.9},
{"CRIM":11.95,"ZN":0,"RM":5.608,"LSTAT":12.13,"MEDV":27.9},
{"CRIM":7.40,"ZN":0,"RM":5.617,"LSTAT":26.4,"MEDV":17.2},
{"CRIM":14.44,"ZN":0,"RM":6.852,"LSTAT":19.78,"MEDV":27.5},
{"CRIM":51.14,"ZN":0,"RM":5.757,"LSTAT":10.11,"MEDV":15},
{"CRIM":14.05,"ZN":0,"RM":6.657,"LSTAT":21.22,"MEDV":17.2},
{"CRIM":18.81,"ZN":0,"RM":4.628,"LSTAT":34.37,"MEDV":17.9},
{"CRIM":28.66,"ZN":0,"RM":5.155,"LSTAT":20.08,"MEDV":16.3},
{"CRIM":45.75,"ZN":0,"RM":4.519,"LSTAT":36.98,"MEDV":7},
{"CRIM":18.08,"ZN":0,"RM":6.434,"LSTAT":29.05,"MEDV":7.2},
{"CRIM":10.83,"ZN":0,"RM":6.782,"LSTAT":25.79,"MEDV":7.5},
{"CRIM":25.94,"ZN":0,"RM":5.304,"LSTAT":26.64,"MEDV":10.4},
{"CRIM":73.53,"ZN":0,"RM":5.957,"LSTAT":20.62,"MEDV":8.8},
{"CRIM":11.81,"ZN":0,"RM":6.824,"LSTAT":22.74,"MEDV":8.4},
{"CRIM":11.09,"ZN":0,"RM":6.411,"LSTAT":15.02,"MEDV":16.7},
{"CRIM":7.02,"ZN":0,"RM":6.006,"LSTAT":15.7,"MEDV":14.2},
{"CRIM":12.05,"ZN":0,"RM":5.648,"LSTAT":14.1,"MEDV":20.8},
{"CRIM":7.05,"ZN":0,"RM":6.103,"LSTAT":23.29,"MEDV":13.4},
{"CRIM":8.79,"ZN":0,"RM":5.565,"LSTAT":17.16,"MEDV":11.7},
{"CRIM":15.86,"ZN":0,"RM":5.896,"LSTAT":24.39,"MEDV":8.3},
{"CRIM":12.25,"ZN":0,"RM":5.837,"LSTAT":15.69,"MEDV":10.2},
{"CRIM":37.66,"ZN":0,"RM":6.202,"LSTAT":14.52,"MEDV":10.9},
{"CRIM":7.37,"ZN":0,"RM":6.193,"LSTAT":21.52,"MEDV":11},
{"CRIM":9.34,"ZN":0,"RM":6.38,"LSTAT":24.08,"MEDV":9.5},
{"CRIM":8.49,"ZN":0,"RM":6.348,"LSTAT":17.64,"MEDV":14.5},
{"CRIM":10.06,"ZN":0,"RM":6.833,"LSTAT":19.69,"MEDV":14.1},
{"CRIM":6.44,"ZN":0,"RM":6.425,"LSTAT":12.03,"MEDV":16.1},
{"CRIM":5.58,"ZN":0,"RM":6.436,"LSTAT":16.22,"MEDV":14.3},
{"CRIM":13.91,"ZN":0,"RM":6.208,"LSTAT":15.17,"MEDV":11.7},
{"CRIM":11.16,"ZN":0,"RM":6.629,"LSTAT":23.27,"MEDV":13.4},
{"CRIM":14.42,"ZN":0,"RM":6.461,"LSTAT":18.05,"MEDV":9.6},
{"CRIM":15.18,"ZN":0,"RM":6.152,"LSTAT":26.45,"MEDV":8.7},
{"CRIM":13.68,"ZN":0,"RM":5.935,"LSTAT":34.02,"MEDV":8.4},
{"CRIM":9.39,"ZN":0,"RM":5.627,"LSTAT":22.88,"MEDV":12.8},
{"CRIM":22.05,"ZN":0,"RM":5.818,"LSTAT":22.11,"MEDV":10.5},
{"CRIM":9.72,"ZN":0,"RM":6.406,"LSTAT":19.52,"MEDV":17.1},
{"CRIM":5.67,"ZN":0,"RM":6.219,"LSTAT":16.59,"MEDV":18.4},
{"CRIM":9.97,"ZN":0,"RM":6.485,"LSTAT":18.85,"MEDV":15.4},
{"CRIM":12.80,"ZN":0,"RM":5.854,"LSTAT":23.79,"MEDV":10.8},
{"CRIM":10.67,"ZN":0,"RM":6.459,"LSTAT":23.98,"MEDV":11.8},
{"CRIM":6.29,"ZN":0,"RM":6.341,"LSTAT":17.79,"MEDV":14.9},
{"CRIM":9.92,"ZN":0,"RM":6.251,"LSTAT":16.44,"MEDV":12.6},
{"CRIM":9.33,"ZN":0,"RM":6.185,"LSTAT":18.13,"MEDV":14.1},
{"CRIM":7.53,"ZN":0,"RM":6.417,"LSTAT":19.31,"MEDV":13},
{"CRIM":6.72,"ZN":0,"RM":6.749,"LSTAT":17.44,"MEDV":13.4},
{"CRIM":5.44,"ZN":0,"RM":6.655,"LSTAT":17.73,"MEDV":15.2},
{"CRIM":5.09,"ZN":0,"RM":6.297,"LSTAT":17.27,"MEDV":16.1},
{"CRIM":8.25,"ZN":0,"RM":7.393,"LSTAT":16.74,"MEDV":17.8},
{"CRIM":9.51,"ZN":0,"RM":6.728,"LSTAT":18.71,"MEDV":14.9},
{"CRIM":4.75,"ZN":0,"RM":6.525,"LSTAT":18.13,"MEDV":14.1},
{"CRIM":4.67,"ZN":0,"RM":5.976,"LSTAT":19.01,"MEDV":12.7},
{"CRIM":8.20,"ZN":0,"RM":5.936,"LSTAT":16.94,"MEDV":13.5},
{"CRIM":7.75,"ZN":0,"RM":6.301,"LSTAT":16.23,"MEDV":14.9},
{"CRIM":6.80,"ZN":0,"RM":6.081,"LSTAT":14.7,"MEDV":20},
{"CRIM":4.81,"ZN":0,"RM":6.701,"LSTAT":16.42,"MEDV":16.4},
{"CRIM":3.69,"ZN":0,"RM":6.376,"LSTAT":14.65,"MEDV":17.7},
{"CRIM":6.65,"ZN":0,"RM":6.317,"LSTAT":13.99,"MEDV":19.5},
{"CRIM":5.82,"ZN":0,"RM":6.513,"LSTAT":10.29,"MEDV":20.2},
{"CRIM":7.84,"ZN":0,"RM":6.209,"LSTAT":13.22,"MEDV":21.4},
{"CRIM":3.16,"ZN":0,"RM":5.759,"LSTAT":14.13,"MEDV":19.9},
{"CRIM":3.77,"ZN":0,"RM":5.952,"LSTAT":17.15,"MEDV":19},
{"CRIM":4.42,"ZN":0,"RM":6.003,"LSTAT":21.32,"MEDV":19.1},
{"CRIM":15.58,"ZN":0,"RM":5.926,"LSTAT":18.13,"MEDV":19.1},
{"CRIM":13.08,"ZN":0,"RM":5.713,"LSTAT":14.76,"MEDV":20.1},
{"CRIM":4.35,"ZN":0,"RM":6.167,"LSTAT":16.29,"MEDV":19.9},
{"CRIM":4.04,"ZN":0,"RM":6.229,"LSTAT":12.87,"MEDV":19.6},
{"CRIM":3.57,"ZN":0,"RM":6.437,"LSTAT":14.36,"MEDV":23.2},
{"CRIM":4.65,"ZN":0,"RM":6.98,"LSTAT":11.66,"MEDV":29.8},
{"CRIM":8.06,"ZN":0,"RM":5.427,"LSTAT":18.14,"MEDV":13.8},
{"CRIM":6.39,"ZN":0,"RM":6.162,"LSTAT":24.1,"MEDV":13.3},
{"CRIM":4.87,"ZN":0,"RM":6.484,"LSTAT":18.68,"MEDV":16.7},
{"CRIM":15.02,"ZN":0,"RM":5.304,"LSTAT":24.91,"MEDV":12},
{"CRIM":10.23,"ZN":0,"RM":6.185,"LSTAT":18.03,"MEDV":14.6},
{"CRIM":14.33,"ZN":0,"RM":6.229,"LSTAT":13.11,"MEDV":21.4},
{"CRIM":5.82,"ZN":0,"RM":6.242,"LSTAT":10.74,"MEDV":23},
{"CRIM":5.71,"ZN":0,"RM":6.75,"LSTAT":7.74,"MEDV":23.7},
{"CRIM":5.73,"ZN":0,"RM":7.061,"LSTAT":7.01,"MEDV":25},
{"CRIM":2.82,"ZN":0,"RM":5.762,"LSTAT":10.42,"MEDV":21.8},
{"CRIM":2.38,"ZN":0,"RM":5.871,"LSTAT":13.34,"MEDV":20.6},
{"CRIM":3.67,"ZN":0,"RM":6.312,"LSTAT":10.58,"MEDV":21.2},
{"CRIM":5.69,"ZN":0,"RM":6.114,"LSTAT":14.98,"MEDV":19.1},
{"CRIM":4.84,"ZN":0,"RM":5.905,"LSTAT":11.45,"MEDV":20.6},
{"CRIM":0.151,"ZN":0,"RM":5.454,"LSTAT":18.06,"MEDV":15.2},
{"CRIM":0.183,"ZN":0,"RM":5.414,"LSTAT":23.97,"MEDV":7},
{"CRIM":0.207,"ZN":0,"RM":5.093,"LSTAT":29.68,"MEDV":8.1},
{"CRIM":0.106,"ZN":0,"RM":5.983,"LSTAT":18.07,"MEDV":13.6},
{"CRIM":0.111,"ZN":0,"RM":5.983,"LSTAT":13.35,"MEDV":20.1},
{"CRIM":0.173,"ZN":0,"RM":5.707,"LSTAT":12.01,"MEDV":21.8},
{"CRIM":0.280,"ZN":0,"RM":5.926,"LSTAT":13.59,"MEDV":24.5},
{"CRIM":0.179,"ZN":0,"RM":5.67,"LSTAT":17.6,"MEDV":23.1},
{"CRIM":0.290,"ZN":0,"RM":5.39,"LSTAT":21.14,"MEDV":19.7},
{"CRIM":0.268,"ZN":0,"RM":5.794,"LSTAT":14.1,"MEDV":18.3},
{"CRIM":0.239,"ZN":0,"RM":6.019,"LSTAT":12.92,"MEDV":21.2},
{"CRIM":0.178,"ZN":0,"RM":5.569,"LSTAT":15.1,"MEDV":17.5},
{"CRIM":0.224,"ZN":0,"RM":6.027,"LSTAT":14.33,"MEDV":16.8},
{"CRIM":0.063,"ZN":0,"RM":6.593,"LSTAT":9.67,"MEDV":22.4},
{"CRIM":0.045,"ZN":0,"RM":6.12,"LSTAT":9.08,"MEDV":20.6},
{"CRIM":0.061,"ZN":0,"RM":6.976,"LSTAT":5.64,"MEDV":23.9},
{"CRIM":0.110,"ZN":0,"RM":6.794,"LSTAT":6.48,"MEDV":22},
{"CRIM":0.047,"ZN":0,"RM":6.03,"LSTAT":7.88,"MEDV":11.9}
],
"markers": [
{"CRIM":3.61,"RM":8.034,"ZN":95,"LSTAT":12.65,"kind":"intermediate"},
{"CRIM":0.02,"RM":6.285,"ZN":11.36,"LSTAT":2.88,"kind":"intermediate"},
{"CRIM":3.61,"RM":6.285,"ZN":11.36,"LSTAT":12.65,"kind":"original"},
{"CRIM":0.02,"RM":8.034,"ZN":95,"LSTAT":2.88,"kind":"counterfactual"}
],
"topV": [{"CRIM":-1.55},{"CRIM":1.59}],
"topH": [{"RM":7.81},{"RM":8.25}],
"botV": [{"ZN":86.95},{"ZN":103.05}],
"botH": [{"LSTAT":0.65,"ZN":-5,"ZN2":105},{"LSTAT":5.25,"ZN":-5,"ZN2":105}],
"botFrameH": [{"LSTAT":40,"ZN":-5,"ZN2":105},{"LSTAT":-2.9,"ZN":-5,"ZN2":105}],
"botFrameV": [{"ZN":105}]
},
"vconcat": [
{
  "width": 566, "height": 346,
  "layer": [
    {"data": {"name": "boston"},
     "mark": {"type": "point", "filled": true, "size": 56, "opacity": 1, "fillOpacity": 0.5, "strokeWidth": 0},
     "encoding": {
       "x": {"field": "CRIM", "type": "quantitative", "scale": {"domain": [-4.8, 100], "nice": false, "zero": false}, "axis": {"values": [0,20,40,60,80,100], "format": "d", "title": "CRIM"}},
       "y": {"field": "RM", "type": "quantitative", "scale": {"domain": [3.5, 9], "nice": false, "zero": false}, "axis": {"values": [4,5,6,7,8,9], "format": "d", "title": "RM"}},
       "color": {"field": "MEDV", "type": "quantitative", "scale": {"domain": [0, 6.25, 12.5, 18.75, 25, 31.25, 37.5, 43.75, 50], "range": ["#ffffff", "#f0f0f0", "#d9d9d9", "#bdbdbd", "#969696", "#737373", "#525252", "#252525", "#000000"]},
         "legend": {"title": null, "orient": "right", "direction": "vertical", "gradientLength": 347, "gradientThickness": 17, "values": [0.0001,10,20,30,40,49.9999], "format": "d", "labelFontSize": 22, "labelOffset": 9, "offset": 35, "gradientStrokeColor": "#444", "gradientStrokeWidth": 1, "labelOverlap": false}}
     }},
    {"data": {"name": "topV"}, "mark": {"type": "rule", "color": "blue", "opacity": 0.75, "strokeDash": [7, 3], "strokeWidth": 2}, "encoding": {"x": {"field": "CRIM", "type": "quantitative"}}},
    {"data": {"name": "topH"}, "mark": {"type": "rule", "color": "blue", "opacity": 0.75, "strokeDash": [7, 3], "strokeWidth": 2}, "encoding": {"y": {"field": "RM", "type": "quantitative"}}},
    {"data": {"name": "markers"}, "mark": {"type": "point", "shape": "M-1,-1L1,1M-1,1L1,-1", "filled": false, "size": 120, "strokeWidth": 1.8, "opacity": 1},
     "encoding": {
       "x": {"field": "CRIM", "type": "quantitative"},
       "y": {"field": "RM", "type": "quantitative"},
       "stroke": {"field": "kind", "type": "nominal", "scale": {"domain": ["original", "intermediate", "counterfactual"], "range": ["red", "orange", "blue"]}, "legend": null}
     }}
  ]
},
{
  "width": 569, "height": 339,
  "view": {"stroke": null},
  "layer": [
    {"data": {"name": "boston"},
     "mark": {"type": "point", "filled": true, "size": 56, "opacity": 1, "fillOpacity": 0.5, "strokeWidth": 0},
     "encoding": {
       "x": {"field": "ZN", "type": "quantitative", "scale": {"domain": [-7.775, 105], "nice": false, "zero": false}, "axis": {"values": [0,20,40,60,80,100], "format": "d", "title": "ZN", "domain": false}},
       "y": {"field": "LSTAT", "type": "quantitative", "scale": {"domain": [-2.9, 40], "nice": false, "zero": false}, "axis": {"values": [0,10,20,30,40], "format": "d", "title": "LSTAT", "offset": -14}},
       "color": {"field": "MEDV", "type": "quantitative", "scale": {"domain": [0, 6.25, 12.5, 18.75, 25, 31.25, 37.5, 43.75, 50], "range": ["#ffffff", "#f0f0f0", "#d9d9d9", "#bdbdbd", "#969696", "#737373", "#525252", "#252525", "#000000"]},
         "legend": {"title": null, "orient": "right", "direction": "vertical", "gradientLength": 339, "gradientThickness": 17, "values": [0.0001,10,20,30,40,49.9999], "format": "d", "labelFontSize": 22, "labelOffset": 9, "offset": 34, "gradientStrokeColor": "#444", "gradientStrokeWidth": 1, "labelOverlap": false}}
     }},
    {"data": {"name": "botFrameV"}, "mark": {"type": "rule", "color": "#000", "strokeWidth": 1}, "encoding": {"x": {"field": "ZN", "type": "quantitative", "title": "ZN"}}},
    {"data": {"name": "botFrameH"}, "mark": {"type": "rule", "color": "#000", "strokeWidth": 1}, "encoding": {"y": {"field": "LSTAT", "type": "quantitative", "title": "LSTAT"}, "x": {"field": "ZN", "type": "quantitative", "title": "ZN"}, "x2": {"field": "ZN2"}}},
    {"data": {"name": "botV"}, "mark": {"type": "rule", "color": "blue", "opacity": 0.75, "strokeDash": [7, 3], "strokeWidth": 2}, "encoding": {"x": {"field": "ZN", "type": "quantitative", "title": "ZN"}}},
    {"data": {"name": "botH"}, "mark": {"type": "rule", "color": "blue", "opacity": 0.75, "strokeDash": [7, 3], "strokeWidth": 2}, "encoding": {"y": {"field": "LSTAT", "type": "quantitative", "title": "LSTAT"}, "x": {"field": "ZN", "type": "quantitative", "title": "ZN"}, "x2": {"field": "ZN2"}}},
    {"data": {"name": "markers"}, "mark": {"type": "point", "shape": "M-1,-1L1,1M-1,1L1,-1", "filled": false, "size": 120, "strokeWidth": 1.8, "opacity": 1},
     "encoding": {
       "x": {"field": "ZN", "type": "quantitative", "title": "ZN"},
       "y": {"field": "LSTAT", "type": "quantitative", "title": "LSTAT"},
       "stroke": {"field": "kind", "type": "nominal", "scale": {"domain": ["original", "intermediate", "counterfactual"], "range": ["red", "orange", "blue"]}, "legend": null}
     }}
  ]
}
],
"spacing": 22,
"resolve": {"scale": {"color": "independent"}, "legend": {"color": "independent"}}
}
